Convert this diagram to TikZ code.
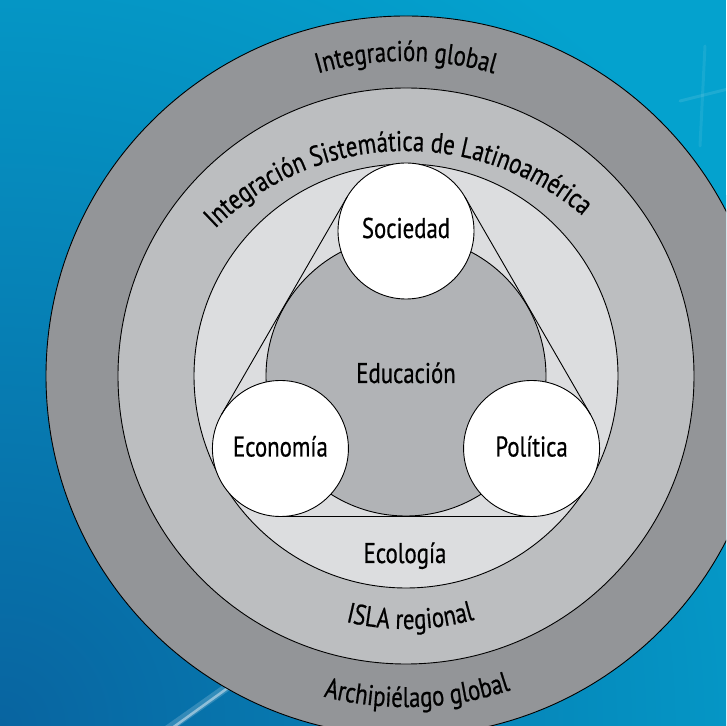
\documentclass[tikz,border=0pt]{standalone}
\usepackage{fontspec}
\setmainfont{PT Sans}[FakeStretch=0.8,FakeBold=0.6]
\usetikzlibrary{decorations.text,calc}
\definecolor{bgblue}{HTML}{04A2CE}
\definecolor{bgdark}{HTML}{0864A0}
\definecolor{ringA}{HTML}{939598}
\definecolor{ringB}{HTML}{BCBEC0}
\definecolor{ringC}{HTML}{DCDDDF}
\definecolor{educ}{HTML}{B1B3B6}
\newcommand\curvefont{\fontsize{28.5}{28.5}\selectfont}
\begin{document}
\begin{tikzpicture}[x=1pt,y=1pt,
  disc/.style={circle, draw=black, line width=0.9pt, inner sep=0pt, outer sep=0pt},
  small/.style={disc, fill=white, minimum size=136pt},
  lbl/.style={font=\curvefont, anchor=base, inner sep=0pt},
  edge/.style={draw=black, line width=0.9pt},
  curved/.style={decorate, decoration={text along path, text align=center, text={|\curvefont|#1}}}
]
\useasboundingbox (0,0) rectangle (726,726);
\clip (0,0) rectangle (726,726);
% background
\fill[bgblue] (0,0) rectangle (726,726);
\shade[inner color=bgdark, outer color=bgblue] (0,0) circle[radius=900];
\draw[white, opacity=0.18, line width=8pt, line cap=round] (165,-5) -- (240,48);
\draw[white, opacity=0.45, line width=2.5pt, line cap=round] (168,-5) -- (236,44);
\draw[white, opacity=0.10, line width=3pt, line cap=round] (680,625) -- (740,640);
\draw[white, opacity=0.08, line width=3pt, line cap=round] (700,580) -- (705,680);

\coordinate (C) at (406,350);
\coordinate (C2) at (406,302);

% rings
\node[disc, fill=ringA, minimum size=720pt] (global) at (C) {};
\node[disc, fill=ringB, minimum size=576pt] (regional) at (C) {};
\node[disc, fill=ringC, minimum size=424pt] (ecol) at (C) {};
\node[disc, fill=educ, minimum size=280pt] (edu) at (C) {};

% three circles
\node[small] (soc) at ($(C)+(90:145)$) {};
\node[small] (eco) at ($(C)+(210:145)$) {};
\node[small] (pol) at ($(C)+(330:145)$) {};

% triangle (outer tangents)
\draw[edge] (soc.150) -- (eco.150);
\draw[edge] (eco.270) -- (pol.270);
\draw[edge] (pol.30) -- (soc.30);

% labels
\node[lbl] (tsoc) at ($(soc.center)+(0,-7)$) {Sociedad};
\node[lbl] (teco) at ($(eco.center)+(0,-8)$) {Economía};
\node[lbl] (tpol) at ($(pol.center)+(0,-8)$) {Política};
\node[lbl] (tedu) at ($(C)+(0,-7)$) {Educación};
\node[lbl] (tecol) at (405,163) {Ecología};

% curved labels
\path[curved={Integración global}] ($(C)+(170:315)$) arc[start angle=170, end angle=10, radius=315];
\path[curved={Integración Sistemática de Latinoamérica}] ($(C2)+(172:273)$) arc[start angle=172, end angle=12, radius=273];
\path[curved={ISLA regional}] ($(C)+(-149:253)$) arc[start angle=-149, end angle=-29, radius=253];
\path[curved={Archipiélago global}] ($(C)+(-148:331)$) arc[start angle=-148, end angle=-28, radius=331];
\end{tikzpicture}
\end{document}
